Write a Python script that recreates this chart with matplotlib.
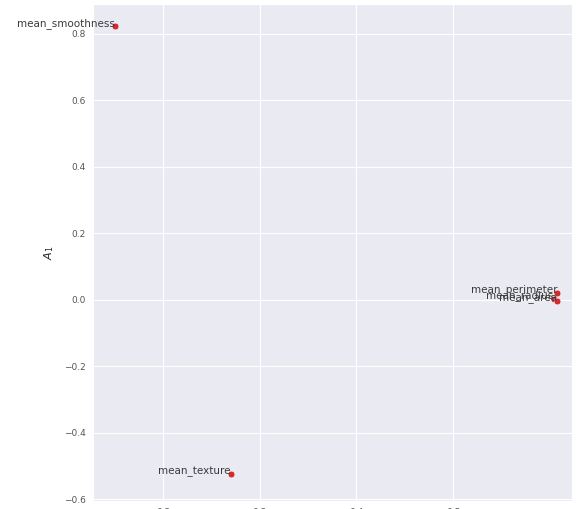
import matplotlib
matplotlib.use("Agg")
import matplotlib.pyplot as plt
import seaborn as sns

features = ["mean_radius", "mean_texture", "mean_perimeter", "mean_area", "mean_smoothness"]
a0 = [0.604, 0.270, 0.608, 0.607, 0.150]
a1 = [0.004, -0.524, 0.022, -0.003, 0.824]

sns.set_style("darkgrid")

fig = plt.figure(figsize=(5.79, 5.09), dpi=100)
ax = fig.add_axes([93 / 579, 8 / 509, 479 / 579, 497 / 509])

ax.scatter(a0, a1, s=24, color="#d42a2f", edgecolor="white", linewidth=0.4, zorder=3)
for name, x, y in zip(features, a0, a1):
    ax.text(x, y, name, ha="right", fontsize=7.5, color="#3a3a3a")

ax.set_xlim(0.1276, 0.623)
ax.set_ylim(-0.605, 0.89)
ax.set_xticks([0.2, 0.3, 0.4, 0.5])
ax.set_yticks([-0.6, -0.4, -0.2, 0.0, 0.2, 0.4, 0.6, 0.8])
ax.tick_params(labelsize=6.5, labelcolor="#555555", pad=1.5)
ax.set_ylabel("$A_1$", fontsize=8, labelpad=6)

fig.savefig("out.png", dpi=100)
